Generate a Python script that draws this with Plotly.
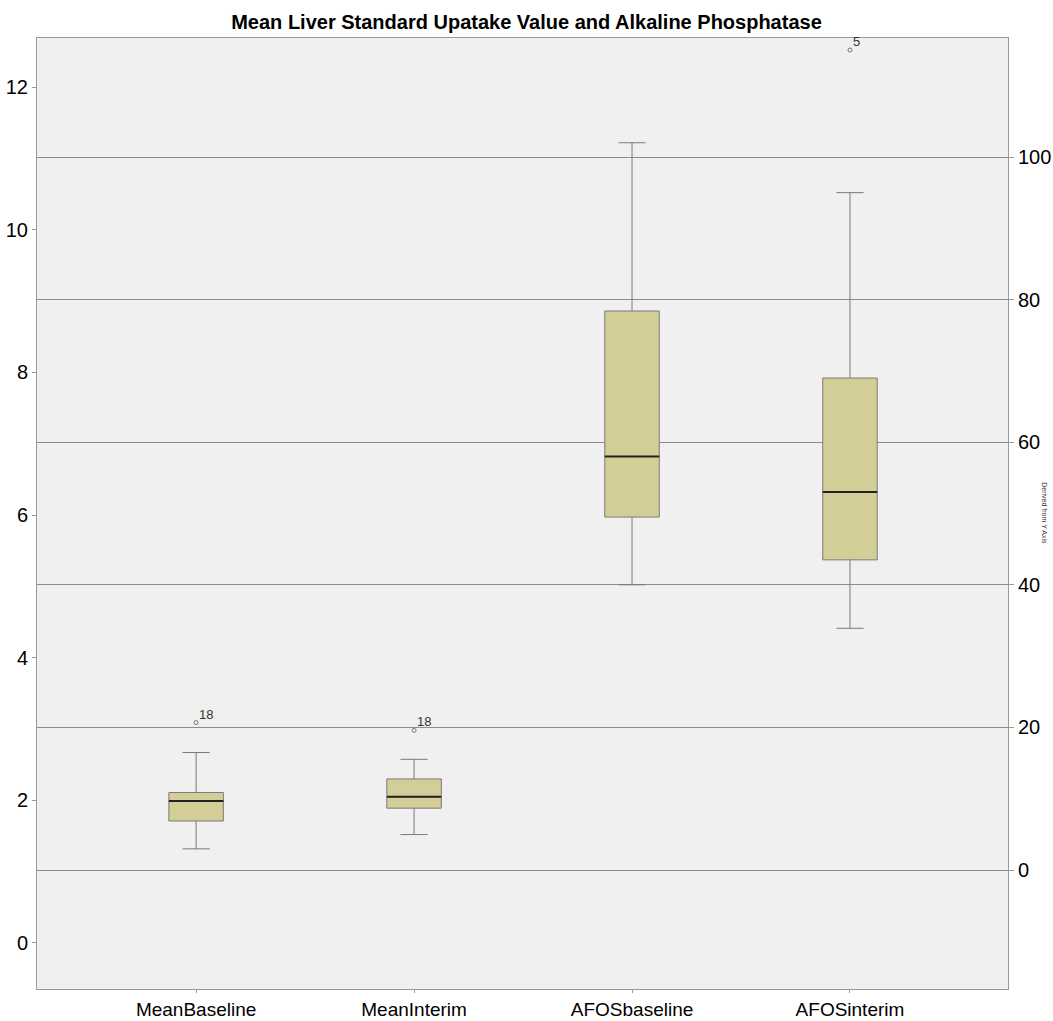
import plotly.graph_objects as go

categories = ["MeanBaseline", "MeanInterim", "AFOSbaseline", "AFOSinterim"]
axis_of = ["y", "y", "y2", "y2"]

lower_fence = [1.32, 1.52, 40.0, 33.9]
q1 = [1.71, 1.89, 49.5, 43.5]
median = [1.99, 2.05, 58.0, 53.0]
q3 = [2.11, 2.30, 78.4, 69.0]
upper_fence = [2.67, 2.575, 102.0, 95.0]

outlier_cat = [0, 1, 3]
outlier_val = [3.09, 2.98, 115.0]
outlier_label = ["18", "18", "5"]

left_ticks = [0, 2, 4, 6, 8, 10, 12]
right_ticks = [0, 20, 40, 60, 80, 100]

BOX_W = 0.25
FILL = "#D3CE97"
EDGE = "#7a7a7a"

fig = go.Figure()
for i, name in enumerate(categories):
    fig.add_trace(go.Box(
        x=[i], q1=[q1[i]], median=[median[i]], q3=[q3[i]],
        lowerfence=[lower_fence[i]], upperfence=[upper_fence[i]],
        width=BOX_W, whiskerwidth=0.5, boxpoints=False,
        fillcolor=FILL, line=dict(color=EDGE, width=1),
        yaxis=axis_of[i], showlegend=False, hoverinfo="skip", name=name,
    ))
    fig.add_trace(go.Scatter(
        x=[i - BOX_W / 2, i + BOX_W / 2], y=[median[i], median[i]],
        mode="lines", line=dict(color="#222222", width=2),
        yaxis=axis_of[i], showlegend=False, hoverinfo="skip",
    ))

for c, v, lab in zip(outlier_cat, outlier_val, outlier_label):
    fig.add_trace(go.Scatter(
        x=[c], y=[v], mode="markers",
        marker=dict(symbol="circle-open", size=4, color="#777777", line=dict(width=1)),
        yaxis=axis_of[c], showlegend=False, hoverinfo="skip",
    ))
    fig.add_annotation(
        x=c, y=v, xref="x", yref="y" if axis_of[c] == "y" else "y2",
        text=lab, showarrow=False, xanchor="left", yanchor="bottom",
        xshift=1, yshift=-1, font=dict(size=13, color="#333333", family="Liberation Sans, Arial"),
    )

fig.add_annotation(
    x=1.043, y=0.5, xref="paper", yref="paper", text="Derived from Y Axis",
    textangle=90, showarrow=False, font=dict(size=7, color="#333333", family="Liberation Sans, Arial"),
)

fig.update_layout(
    width=1053, height=1021,
    margin=dict(l=37, r=45, t=38, b=32, autoexpand=False),
    paper_bgcolor="white", plot_bgcolor="#F0F0F0",
    boxmode="overlay",
    title=dict(
        text="<b>Mean Liver Standard Upatake Value and Alkaline Phosphatase</b>",
        x=0.5, xanchor="center", y=0.9785, yanchor="middle",
        font=dict(size=20, color="black", family="Liberation Sans, Arial"),
        automargin=False,
    ),
    xaxis=dict(
        range=[-0.73, 3.725], tickvals=list(range(len(categories))), ticktext=categories,
        showgrid=False, zeroline=False, showline=True, linecolor="#999999", linewidth=1,
        ticks="outside", ticklen=3, tickcolor="#999999", mirror=True, automargin=False,
        tickfont=dict(size=19, color="black", family="Liberation Sans, Arial"),
    ),
    yaxis=dict(
        range=[-0.645, 12.687], tickvals=left_ticks,
        showgrid=False, zeroline=False, showline=True, linecolor="#999999", linewidth=1,
        ticks="outside", ticklen=4, tickcolor="#999999", automargin=False,
        tickfont=dict(size=20, color="black", family="Liberation Sans, Arial"),
    ),
    yaxis2=dict(
        range=[-16.69, 116.69], tickvals=right_ticks, overlaying="y", side="right",
        showgrid=True, gridcolor="#8c8c8c", gridwidth=1, zeroline=False,
        showline=True, linecolor="#999999", linewidth=1, automargin=False,
        ticks="outside", ticklen=5, tickcolor="#999999",
        tickfont=dict(size=20, color="black", family="Liberation Sans, Arial"),
    ),
)

fig.write_html("out.html")
